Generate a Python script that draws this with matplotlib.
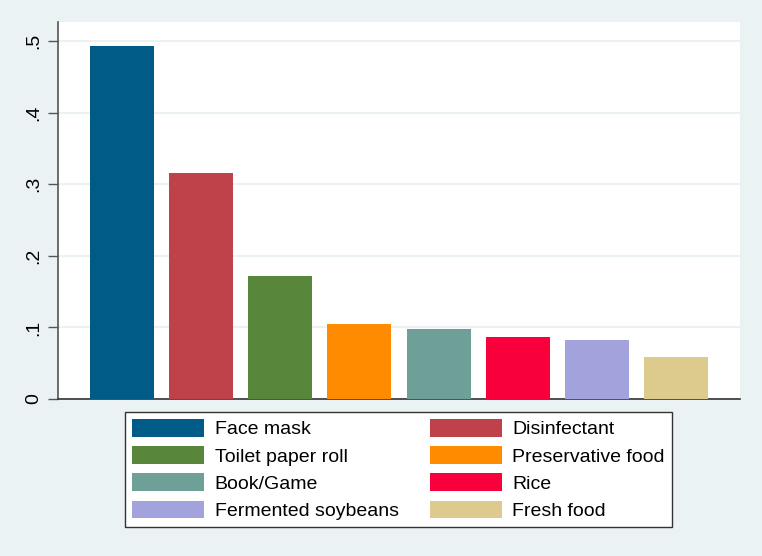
import matplotlib
matplotlib.use("Agg")
import matplotlib.pyplot as plt
from matplotlib.patches import Patch

categories = ["Face mask", "Disinfectant", "Toilet paper roll", "Preservative food",
              "Book/Game", "Rice", "Fermented soybeans", "Fresh food"]
values = [0.493, 0.316, 0.172, 0.105, 0.098, 0.086, 0.083, 0.059]
colors = ["#005B86", "#BF424B", "#58863A", "#FF8C00",
          "#6EA097", "#F8003B", "#A2A2DC", "#DCCB8D"]
yticks = [0, 0.1, 0.2, 0.3, 0.4, 0.5]
yticklabels = ["0", ".1", ".2", ".3", ".4", ".5"]

plt.rcParams["font.family"] = ["Liberation Sans", "DejaVu Sans"]
W, H = 762, 556
fig = plt.figure(figsize=(W / 100, H / 100), dpi=100, facecolor="#EAF2F3")
ax = fig.add_axes([58 / W, 1 - 399 / H, (740 - 58) / W, (399 - 22) / H])
ax.set_facecolor("white")

x = list(range(len(values)))
ax.bar(x, values, width=0.81, color=colors, zorder=3)
ax.set_xlim(-0.81, len(values) - 1 + 0.81)
ax.set_ylim(0, 0.5 + (41 - 22) / 716)
ax.set_yticks(yticks)
ax.set_yticklabels(yticklabels, rotation=90, va="center", fontsize=14)
ax.yaxis.grid(True, color="#EAF2F3", linewidth=1.5, zorder=0)
ax.set_xticks([])
for s in ["top", "right"]:
    ax.spines[s].set_visible(False)
ax.spines["left"].set_color("#555555")
ax.spines["bottom"].set_color("#333333")
ax.spines["left"].set_linewidth(1.2)
ax.spines["bottom"].set_linewidth(1.2)
ax.tick_params(axis="y", length=7, width=1.0, color="#555555", pad=4)

# legend filled row-wise (column 1 = even items, column 2 = odd items)
order = list(range(0, len(categories), 2)) + list(range(1, len(categories), 2))
handles = [Patch(facecolor=colors[i], edgecolor="none") for i in order]
labels = [categories[i] for i in order]
leg = fig.legend(handles, labels, ncol=2, loc="center",
                 bbox_to_anchor=(398.5 / W, 1 - 469.5 / H),
                 fontsize=14, frameon=True, fancybox=False, framealpha=1,
                 edgecolor="#333333", facecolor="white",
                 handlelength=3.7, handleheight=1.0, handletextpad=0.55,
                 labelspacing=0.4, columnspacing=1.6, borderpad=0.38,
                 borderaxespad=0)
leg.get_frame().set_linewidth(1.0)

fig.savefig("out.png", dpi=100, facecolor=fig.get_facecolor())
